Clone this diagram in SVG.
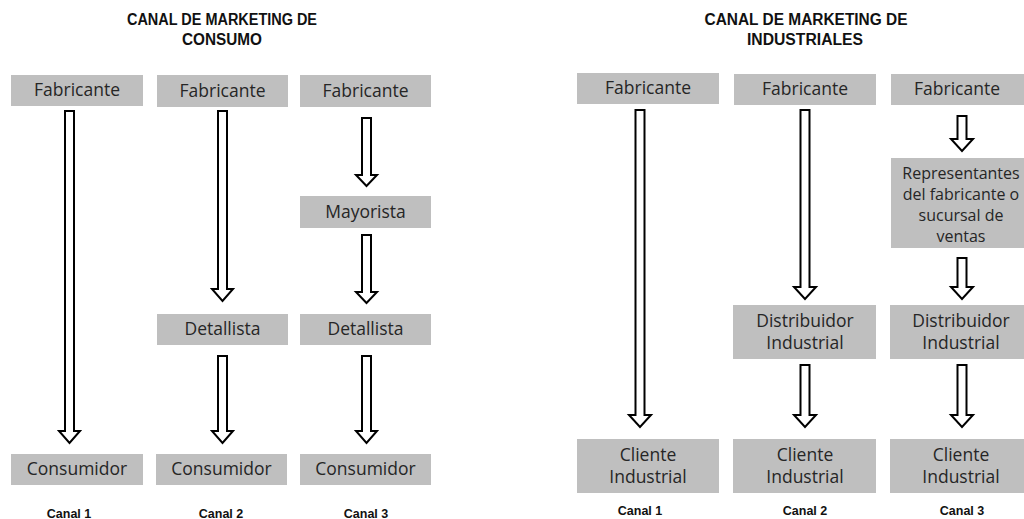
<svg xmlns="http://www.w3.org/2000/svg" width="1024" height="519" viewBox="0 0 1024 519">
<style>
.box{fill:#bfbfbf}
.t{font-family:"Open Sans","Liberation Sans",sans-serif;font-size:17.5px;fill:#262626;text-anchor:middle}
.s{font-family:"Open Sans","Liberation Sans",sans-serif;font-size:16px;fill:#262626;text-anchor:middle}
.h{font-family:"Liberation Sans",sans-serif;font-size:16px;font-weight:bold;fill:#111;text-anchor:middle}
.c{font-family:"Liberation Sans",sans-serif;font-size:12.5px;font-weight:bold;fill:#111;text-anchor:middle}
.a{fill:#fff;stroke:#000;stroke-width:2}
</style>
<rect width="1024" height="519" fill="#fff"/>
<g id="titles">
<text class="h" x="222" y="25" textLength="190" lengthAdjust="spacingAndGlyphs">CANAL DE MARKETING DE</text>
<text class="h" x="222" y="45" textLength="80" lengthAdjust="spacingAndGlyphs">CONSUMO</text>
<text class="h" x="806" y="25" textLength="203" lengthAdjust="spacingAndGlyphs">CANAL DE MARKETING DE</text>
<text class="h" x="805" y="45" textLength="116" lengthAdjust="spacingAndGlyphs">INDUSTRIALES</text>
</g>
<g id="connectors">
<polygon class="a" points="65,111 74,111 74,431 80,431 69.5,443 59,431 65,431"/>
<polygon class="a" points="218,111 227,111 227,289 233,289 222.5,301 212,289 218,289"/>
<polygon class="a" points="218,356 227,356 227,431 233,431 222.5,443 212,431 218,431"/>
<polygon class="a" points="362,118 371,118 371,175 377,175 366.5,186 356,175 362,175"/>
<polygon class="a" points="362,235 371,235 371,292 377,292 366.5,303 356,292 362,292"/>
<polygon class="a" points="362,356 371,356 371,431 377,431 366.5,443 356,431 362,431"/>
<polygon class="a" points="635.5,110 644.5,110 644.5,415 651,415 640,427 629,415 635.5,415"/>
<polygon class="a" points="800.5,110 809.5,110 809.5,287 816,287 805,299 794,287 800.5,287"/>
<polygon class="a" points="800.5,365 809.5,365 809.5,415 816,415 805,427 794,415 800.5,415"/>
<polygon class="a" points="957.5,116 966.5,116 966.5,139 973,139 962,151 951,139 957.5,139"/>
<polygon class="a" points="957.5,258 966.5,258 966.5,287 973,287 962,299 951,287 957.5,287"/>
<polygon class="a" points="957.5,365 966.5,365 966.5,415 973,415 962,427 951,415 957.5,415"/>
</g>
<g id="c1-fabricante"><rect class="box" x="11" y="75" width="132" height="31"/><text class="t" x="77" y="96">Fabricante</text></g>
<g id="c2-fabricante"><rect class="box" x="157" y="75" width="131" height="32"/><text class="t" x="222.5" y="97">Fabricante</text></g>
<g id="c3-fabricante"><rect class="box" x="300" y="75" width="131" height="32"/><text class="t" x="365.5" y="97">Fabricante</text></g>
<g id="c3-mayorista"><rect class="box" x="300" y="196" width="131" height="32"/><text class="t" x="365.5" y="218">Mayorista</text></g>
<g id="c2-detallista"><rect class="box" x="157" y="314" width="131" height="31"/><text class="t" x="222.5" y="335">Detallista</text></g>
<g id="c3-detallista"><rect class="box" x="300" y="314" width="131" height="31"/><text class="t" x="365.5" y="335">Detallista</text></g>
<g id="c1-consumidor"><rect class="box" x="11" y="454" width="132" height="31"/><text class="t" x="77" y="475">Consumidor</text></g>
<g id="c2-consumidor"><rect class="box" x="156" y="454" width="131" height="31"/><text class="t" x="221.5" y="475">Consumidor</text></g>
<g id="c3-consumidor"><rect class="box" x="300" y="454" width="131" height="31"/><text class="t" x="365.5" y="475">Consumidor</text></g>
<g id="labels-consumo">
<text class="c" x="69" y="518">Canal 1</text>
<text class="c" x="221" y="518">Canal 2</text>
<text class="c" x="366" y="518">Canal 3</text>
</g>
<g id="i1-fabricante"><rect class="box" x="577" y="73" width="142" height="31"/><text class="t" x="648" y="94">Fabricante</text></g>
<g id="i2-fabricante"><rect class="box" x="734" y="74" width="142" height="31"/><text class="t" x="805" y="95">Fabricante</text></g>
<g id="i3-fabricante"><rect class="box" x="891" y="74" width="142" height="31"/><text class="t" x="957" y="95">Fabricante</text></g>
<g id="i3-representantes"><rect class="box" x="891" y="158" width="142" height="90"/>
<text class="s" x="961" y="179">Representantes</text>
<text class="s" x="961" y="200">del fabricante o</text>
<text class="s" x="961" y="221">sucursal de</text>
<text class="s" x="961" y="242">ventas</text></g>
<g id="i2-distribuidor"><rect class="box" x="733" y="305" width="143" height="54"/><text class="t" x="805" y="327">Distribuidor</text><text class="t" x="805" y="349">Industrial</text></g>
<g id="i3-distribuidor"><rect class="box" x="890" y="305" width="143" height="54"/><text class="t" x="961" y="327">Distribuidor</text><text class="t" x="961" y="349">Industrial</text></g>
<g id="i1-cliente"><rect class="box" x="577" y="439" width="142" height="54"/><text class="t" x="648" y="461">Cliente</text><text class="t" x="648" y="483">Industrial</text></g>
<g id="i2-cliente"><rect class="box" x="733" y="439" width="143" height="54"/><text class="t" x="805" y="461">Cliente</text><text class="t" x="805" y="483">Industrial</text></g>
<g id="i3-cliente"><rect class="box" x="890" y="439" width="143" height="54"/><text class="t" x="961" y="461">Cliente</text><text class="t" x="961" y="483">Industrial</text></g>
<g id="labels-industriales">
<text class="c" x="640" y="515">Canal 1</text>
<text class="c" x="805" y="515">Canal 2</text>
<text class="c" x="962" y="515">Canal 3</text>
</g>
</svg>
